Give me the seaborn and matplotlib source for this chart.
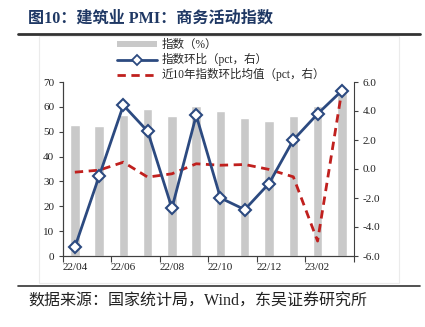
import numpy as np
import pandas as pd
import matplotlib
matplotlib.use("Agg")
import matplotlib.pyplot as plt
import seaborn as sns
from matplotlib.patches import Rectangle
from matplotlib.lines import Line2D
from matplotlib.ticker import FormatStrFormatter

sns.set_style("white")
plt.rcParams['font.family'] = ['Liberation Serif', 'Noto Sans CJK SC', 'DejaVu Sans']
plt.rcParams['axes.unicode_minus'] = False

months = ["22/04", "22/05", "22/06", "22/07", "22/08", "22/09",
          "22/10", "22/11", "22/12", "23/01", "23/02", "23/03"]
pmi_index = [52.7, 52.2, 56.6, 59.2, 56.5, 60.2, 58.2, 55.4, 54.4, 56.4, 60.2, 65.6]
mom_change = [-5.4, -0.5, 4.4, 2.6, -2.7, 3.7, -2.0, -2.8, -1.0, 2.0, 3.8, 5.4]
avg10y_mom = [-0.22, -0.08, 0.47, -0.56, -0.33, 0.36, 0.26, 0.31, -0.03, -0.54, -4.97, 5.42]
xtick_labels = ["22/04", "22/06", "22/08", "22/10", "22/12", "23/02"]

lbl_bar = "指数（%）"
lbl_mom = "指数环比（pct，右）"
lbl_avg = "近10年指数环比均值（pct，右）"

df = pd.DataFrame({"month": months, "index": pmi_index,
                   "mom": mom_change, "avg": avg10y_mom})

W, H = 425, 327
fig = plt.figure(figsize=(W / 100, H / 100), dpi=100)
fig.patch.set_facecolor("white")

ax = fig.add_axes([62.7 / W, 1 - 256 / H, (354 - 62.7) / W, (256 - 82) / H])
bar_color = "#C9C9C9"
sns.barplot(data=df, x="month", y="index", order=months, color=bar_color,
            width=0.39, saturation=1, ax=ax)
ax.set_ylim(0, 70)
ax.set_yticks(np.arange(0, 71, 10))
ax.set_xlim(-0.5, len(months) - 0.5)
ax.set_xlabel("")
ax.set_ylabel("")

ax2 = ax.twinx()
blue = "#2C4A80"
red = "#C0201E"
sns.lineplot(data=df, x="month", y="avg", ax=ax2, color=red, linewidth=2,
             linestyle=(0, (3, 2)), sort=False, zorder=2)
sns.lineplot(data=df, x="month", y="mom", ax=ax2, color=blue, linewidth=2,
             marker="D", markersize=6.5, markerfacecolor="white",
             markeredgecolor=blue, markeredgewidth=1.5, sort=False, zorder=3)
ax2.set_ylim(-6, 6)
ax2.set_yticks(np.arange(-6, 6.1, 2))
ax2.yaxis.set_major_formatter(FormatStrFormatter("%.1f"))
ax2.set_xlim(-0.5, len(months) - 0.5)
ax2.set_ylabel("")
ax2.set_xlabel("")
if ax2.get_legend() is not None:
    ax2.get_legend().remove()

# x ticks: marks at group boundaries, labels every other month
ax.set_xticks(np.arange(-0.5, len(months), 2))
ax.set_xticklabels([""] * len(np.arange(-0.5, len(months), 2)))
ax.set_xticks(np.arange(0, len(months), 2), minor=True)
ax.set_xticklabels(xtick_labels, minor=True)
ax.tick_params(axis="x", which="major", direction="out", length=4, width=0.8,
               color="#404040", bottom=True)
ax.tick_params(axis="x", which="minor", length=0, labelsize=8, pad=5,
               labelcolor="#222222")
ax.tick_params(axis="y", direction="out", length=3, width=0.8, color="#404040",
               labelsize=8, labelcolor="#222222", left=True, pad=3)
ax2.tick_params(axis="y", direction="out", length=3, width=0.8, color="#404040",
                labelsize=8, labelcolor="#222222", right=True, pad=3)

for a in (ax, ax2):
    a.spines["top"].set_visible(False)
    for s in ("left", "right", "bottom"):
        a.spines[s].set_color("#404040")
        a.spines[s].set_linewidth(0.8)
ax.spines["right"].set_visible(False)

# legend
handles = [
    Rectangle((0, 0), 1, 1, facecolor=bar_color, edgecolor="none"),
    Line2D([], [], color=blue, linewidth=2, marker="D", markersize=5,
           markerfacecolor="white", markeredgecolor=blue, markeredgewidth=1.3),
    Line2D([], [], color=red, linewidth=2, linestyle=(0, (3, 2))),
]
leg = fig.legend(handles, [lbl_bar, lbl_mom, lbl_avg], loc="upper left",
                 bbox_to_anchor=(117 / W, 1 - 39 / H), frameon=False,
                 fontsize=8.3, handlelength=3.5, handleheight=0.45,
                 handletextpad=0.35, labelspacing=0.18, borderpad=0,
                 borderaxespad=0)

# chart area frame (faint)
fig.add_artist(Rectangle((39 / W, 1 - 283 / H), (399 - 39) / W, (283 - 36) / H,
                         transform=fig.transFigure, fill=False,
                         edgecolor="#EBEBEB", linewidth=0.8))

# title and rules
fig.text(28 / W, 1 - 18.5 / H, "图10：建筑业 PMI：商务活动指数",
         fontsize=11.6, fontweight="bold", color="#1F3864", va="center", ha="left")
fig.add_artist(Line2D([18 / W, 420 / W], [1 - 33.7 / H, 1 - 33.7 / H],
                      color="#333333", linewidth=2, transform=fig.transFigure))
fig.add_artist(Line2D([18 / W, 420 / W], [1 - 286 / H, 1 - 286 / H],
                      color="#333333", linewidth=1.2, transform=fig.transFigure))
fig.text(28 / W, 1 - 302 / H, "数据来源：国家统计局，Wind，东吴证券研究所",
         fontsize=11.5, color="#222222", va="center", ha="left")

fig.savefig("out.png", dpi=100, facecolor="white")
